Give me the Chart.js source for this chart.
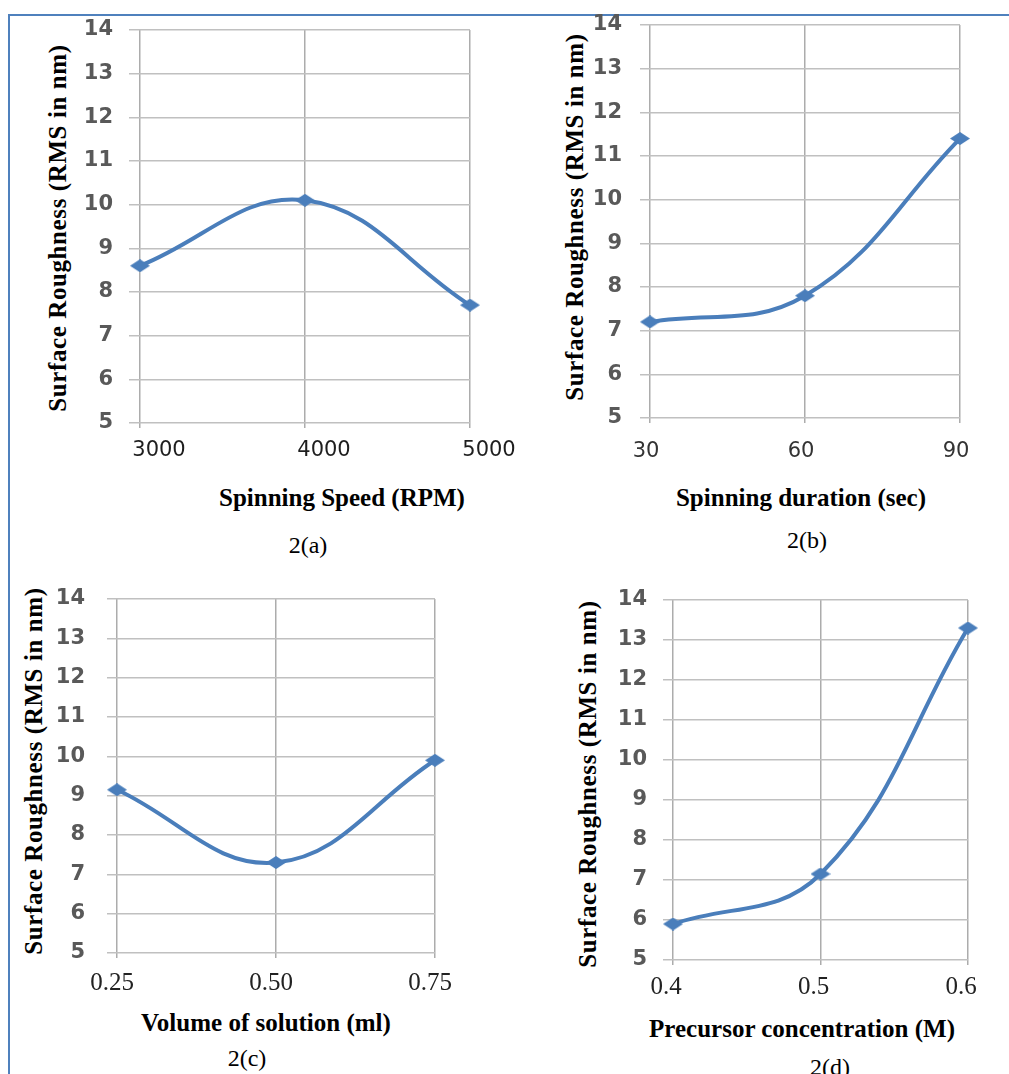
<!DOCTYPE html>
<html>
<head>
<meta charset="utf-8">
<script src="https://cdn.jsdelivr.net/npm/chart.js@4"></script>
<style>
  html, body { margin: 0; padding: 0; background: #fff; }
  body { width: 1009px; height: 1074px; position: relative; overflow: hidden; }
  .frame { position: absolute; left: 8px; top: 14px; right: -4px; bottom: -4px;
           border-top: 2px solid #4f81bd; border-left: 2px solid #4f81bd; }
  canvas.panel { position: absolute; }
  .t { position: absolute; font-family: "Liberation Serif", "Times New Roman", serif; color: #000;
       white-space: nowrap; transform: translate(-50%, -50%); line-height: 1; }
  .xt { font-weight: bold; font-size: 25px; }
  .yt { font-weight: bold; font-size: 25px; letter-spacing: 0.6px;
        transform: translate(-50%, -50%) rotate(-90deg); }
  .cap { font-size: 24px; }
</style>
</head>
<body>
<div class="frame"></div>
<script>
// Surface roughness (RMS, nm) versus each spin-coating parameter
const speedLabels = ['3000', '4000', '5000'];
const speedRoughness = [8.6, 10.1, 7.7];

const durationLabels = ['30', '60', '90'];
const durationRoughness = [7.2, 7.8, 11.4];

const volumeLabels = ['0.25', '0.50', '0.75'];
const volumeRoughness = [9.15, 7.3, 9.9];

const concentrationLabels = ['0.4', '0.5', '0.6'];
const concentrationRoughness = [5.9, 7.15, 13.3];

// shared value axis
const yMin = 5;
const yMax = 14;
const yStep = 1;

const yTitle = 'Surface Roughness (RMS in nm)';

const LINE_BLUE = '#4a7ebb';
const AX_W = 60;   // reserved width of the value axis
const AX_H = 50;   // reserved height of the category axis
const PAD_T = 14;
const PAD_R = 50;

// flattened diamond marker
function diamond(w, h, color) {
  const c = document.createElement('canvas');
  c.width = w; c.height = h;
  const g = c.getContext('2d');
  g.fillStyle = color;
  g.beginPath();
  g.moveTo(w / 2, 0); g.lineTo(w, h / 2); g.lineTo(w / 2, h); g.lineTo(0, h / 2);
  g.closePath(); g.fill();
  return c;
}
const marker = diamond(20, 13, LINE_BLUE);

const sansTick = { family: '"DejaVu Sans", sans-serif', size: 21 };
const serifTick = { family: '"Liberation Serif", "Times New Roman", serif', size: 25 };
const yTickFont = { family: '"DejaVu Sans", sans-serif', size: 21, weight: 'bold' };

const panels = [
  { labels: speedLabels, values: speedRoughness, area: { l: 140, r: 470, t: 30, b: 423 },
    yTick: 11, yPad: 16, xFont: sansTick, xColor: '#1e1e1e', xPad: 10, xOff: 19,
    xTitle: 'Spinning Speed (RPM)', xTitlePos: [342, 497],
    yTitlePos: [57, 228], caption: '2(a)', capPos: [308, 545] },
  { labels: durationLabels, values: durationRoughness, area: { l: 650, r: 960, t: 25, b: 418 },
    yTick: 10, yPad: 18, xFont: sansTick, xColor: '#333', xPad: 16, xOff: -4,
    xTitle: 'Spinning duration (sec)', xTitlePos: [801, 497],
    yTitlePos: [574, 217], caption: '2(b)', capPos: [807, 540] },
  { labels: volumeLabels, values: volumeRoughness, area: { l: 117, r: 435, t: 599, b: 953 },
    yTick: 10, yPad: 22, xFont: serifTick, xColor: '#222', xPad: 10, xOff: -5,
    xTitle: 'Volume of solution (ml)', xTitlePos: [266, 1022],
    yTitlePos: [33, 771], caption: '2(c)', capPos: [247, 1058] },
  { labels: concentrationLabels, values: concentrationRoughness, area: { l: 673, r: 968, t: 600, b: 960 },
    yTick: 10, yPad: 16, xFont: serifTick, xColor: '#222', xPad: 7, xOff: -7,
    xTitle: 'Precursor concentration (M)', xTitlePos: [802, 1028],
    yTitlePos: [587, 784], caption: '2(d)', capPos: [830, 1067] }
];

function addText(cls, text, pos) {
  const d = document.createElement('div');
  d.className = 't ' + cls;
  d.textContent = text;
  d.style.left = pos[0] + 'px';
  d.style.top = pos[1] + 'px';
  document.body.appendChild(d);
}

panels.forEach(p => {
  const a = p.area;
  const w = AX_W + (a.r - a.l) + PAD_R;
  const h = PAD_T + (a.b - a.t) + AX_H;
  const cv = document.createElement('canvas');
  cv.className = 'panel';
  cv.width = w; cv.height = h;
  cv.style.width = w + 'px'; cv.style.height = h + 'px';
  cv.style.left = (a.l - AX_W) + 'px';
  cv.style.top = (a.t - PAD_T) + 'px';
  document.body.appendChild(cv);

  new Chart(cv.getContext('2d'), {
    type: 'line',
    data: {
      labels: p.labels,
      datasets: [{
        data: p.values,
        borderColor: LINE_BLUE,
        backgroundColor: LINE_BLUE,
        borderWidth: 4,
        tension: 0.4,
        fill: false,
        pointStyle: marker,
        pointRadius: 8,
        clip: false
      }]
    },
    options: {
      responsive: false,
      animation: false,
      devicePixelRatio: 1,
      layout: { padding: { left: 0, top: PAD_T, right: PAD_R, bottom: 0 }, autoPadding: false },
      plugins: { legend: { display: false }, tooltip: { enabled: false } },
      scales: {
        x: {
          type: 'category',
          offset: false,
          grid: { color: '#acacac', lineWidth: 1.5, tickLength: 5, offset: false },
          border: { display: false },
          ticks: { font: p.xFont, color: p.xColor, padding: p.xPad, labelOffset: p.xOff,
                   maxRotation: 0, autoSkip: false },
          afterFit(s) { s.height = AX_H; s.paddingLeft = 0; s.paddingRight = 0; }
        },
        y: {
          min: yMin, max: yMax,
          grid: { color: '#c0c0c0', lineWidth: 1.5, tickLength: p.yTick },
          border: { display: false },
          ticks: { stepSize: yStep, font: yTickFont, color: '#595959', padding: p.yPad },
          afterFit(s) { s.width = AX_W; s.paddingTop = 0; s.paddingBottom = 0; }
        }
      }
    }
  });

  addText('xt', p.xTitle, p.xTitlePos);
  addText('yt', yTitle, p.yTitlePos);
  addText('cap', p.caption, p.capPos);
});
</script>
</body>
</html>
